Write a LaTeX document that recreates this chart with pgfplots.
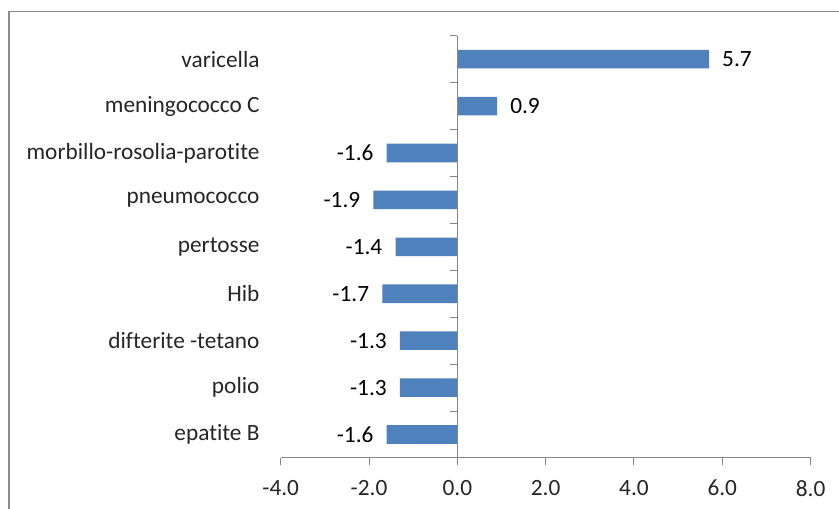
\documentclass[border=0pt]{standalone}
\usepackage{fontspec}
\setmainfont{Carlito}[Ligatures=NoCommon]
\usepackage{pgfplots}
\pgfplotsset{compat=1.18}
\definecolor{barblue}{HTML}{4F81BD}
\definecolor{axgray}{HTML}{868686}
\definecolor{framegray}{HTML}{8C8C8C}
\definecolor{txt}{HTML}{262626}
\begin{document}
\begin{tikzpicture}[x=1bp,y=1bp,font=\fontsize{23.3bp}{27bp}\selectfont]
\useasboundingbox[fill=white] (0,0) rectangle (839,509);
\draw[framegray, line width=1.6bp] (9,0) -- (9,497.5) -- (839,497.5);
\begin{axis}[
  at={(280.7bp,51bp)}, anchor=south west,
  scale only axis, width=529.9bp, height=422.3bp,
  xmin=-4, xmax=8, ymin=-0.5, ymax=8.5,
  xbar, bar width=18.6bp, bar shift=0pt,
  axis x line*=bottom, axis y line*=left,
  y axis line style={draw=none},
  x axis line style={axgray, line width=1bp},
  xtick={-4,-2,0,2,4,6,8},
  tick align=outside, major tick length=7bp,
  xtick style={axgray, line width=1bp},
  ytick style={draw=none},
  xticklabel style={inner sep=0pt, anchor=north, yshift=-15bp, text=txt,
    /pgf/number format/.cd, fixed, fixed zerofill, precision=1, assume math mode=true},
  ytick={0,...,8},
  yticklabels={epatite B, polio, difterite -tetano, Hib, pertosse, pneumococco, morbillo-rosolia-parotite, meningococco C, varicella},
  yticklabel style={inner sep=0pt, anchor=east, xshift=-14bp, text=txt},
  clip=false,
]
\addplot[fill=barblue, draw=none, point meta=x,
  nodes near coords={\pgfmathprintnumber[fixed,fixed zerofill,precision=1,assume math mode=true]{\pgfplotspointmeta}},
  nodes near coords align=horizontal,
  every node near coord/.append style={inner xsep=13bp, text=black}]
  coordinates {(-1.6,0) (-1.3,1) (-1.3,2) (-1.7,3) (-1.4,4) (-1.9,5) (-1.6,6) (0.9,7) (5.7,8)};
\draw[axgray, line width=1bp] (axis cs:0,-0.5) -- (axis cs:0,8.5);
\pgfplotsinvokeforeach{-0.5,0.5,1.5,2.5,3.5,4.5,5.5,6.5,7.5,8.5}{
  \draw[axgray, line width=1bp] (axis cs:0,#1) -- ([xshift=-7bp]axis cs:0,#1);
}
\end{axis}
\end{tikzpicture}
\end{document}
